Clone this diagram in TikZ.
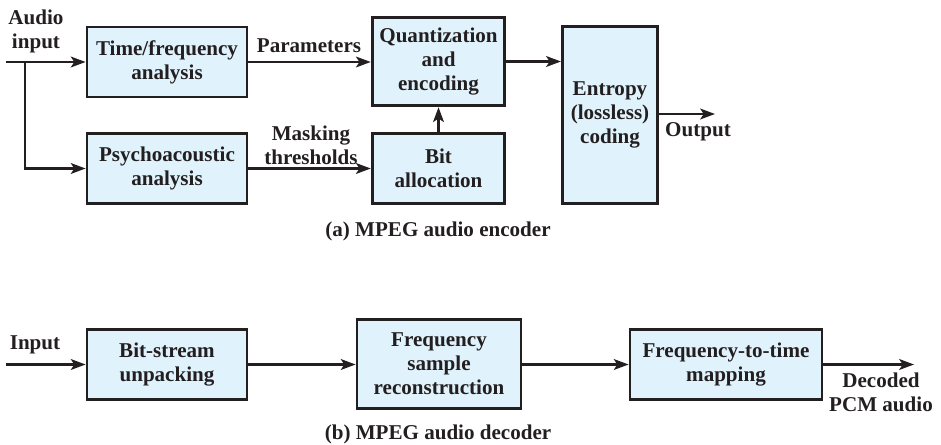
\documentclass[tikz,border=0pt]{standalone}
\usepackage{fontspec}
\setmainfont{Liberation Serif}
\usetikzlibrary{positioning,arrows.meta}
\definecolor{boxfill}{HTML}{E0F2FC}
\definecolor{ink}{HTML}{231F20}

\begin{document}
\begin{tikzpicture}[x=0.75pt,y=-0.75pt,
    font=\fontsize{15.8}{18}\selectfont\bfseries,
    bloco/.style={draw=ink,line width=2.1pt,fill=boxfill,align=center,text=ink,inner sep=2pt},
    seta/.style={draw=ink,line width=1.9pt,-{Stealth[length=11pt,width=8pt,inset=2.5pt]}},
    rotulo/.style={align=center,text=ink,inner sep=1pt}]
        \useasboundingbox (0,0) rectangle (941,445);

        % Codificador
        \node[bloco,minimum width=120pt,minimum height=52.5pt] (tf) at (167,62) {Time/frequency\\analysis};
        \node[bloco,minimum width=120pt,minimum height=52.5pt] (psy) at (167,168.5) {Psychoacoustic\\analysis};
        \node[bloco,minimum width=99.5pt,minimum height=66.5pt] (qe) at (438.5,61.5) {Quantization\\and\\encoding};
        \node[bloco,minimum width=99.5pt,minimum height=53pt] (bit) at (438.5,168.5) {Bit\\allocation};
        \node[bloco,minimum width=71.5pt,minimum height=132.5pt] (ent) at (610,115) {Entropy\\(lossless)\\coding};

        \coordinate (ain) at (6,62);
        \coordinate (br) at (25,62);
        \coordinate (aout) at (715,114);

        \draw[seta] (ain) -- (tf.west);
        \draw[seta] (br) |- (psy.west);
        \draw[seta] (tf.east) -- (tf.east -| qe.west);
        \draw[seta] (psy.east) -- (bit.west);
        \draw[seta] (bit.north) -- (qe.south);
        \draw[seta] (qe.east) -- (qe.east -| ent.west);
        \draw[seta] (ent.east |- aout) -- (aout);

        \node[rotulo] (lain) at (36,31) {Audio\\input};
        \node[rotulo] (lpar) at (309,46) {Parameters};
        \node[rotulo] (lmask) at (311,145) {Masking\\thresholds};
        \node[rotulo] (lout) at (698,132) {Output};
        \node[rotulo] (capa) at (438,231) {(a) MPEG audio encoder};

        % Decodificador
        \node[bloco,minimum width=120pt,minimum height=53pt] (bs) at (167,364.5) {Bit-stream\\unpacking};
        \node[bloco,minimum width=123pt,minimum height=67pt] (fs) at (439,364) {Frequency\\sample\\reconstruction};
        \node[bloco,minimum width=144pt,minimum height=53pt] (ft) at (726,364.5) {Frequency-to-time\\mapping};

        \coordinate (din) at (6,364.5);
        \coordinate (dout) at (914,364.5);

        \draw[seta] (din) -- (bs.west);
        \draw[seta] (bs.east) -- (bs.east -| fs.west);
        \draw[seta] (fs.east |- ft.west) -- (ft.west);
        \draw[seta] (ft.east) -- (dout);

        \node[rotulo] (ldin) at (35,345) {Input};
        \node[rotulo] (ldout) at (881,392) {Decoded\\PCM audio};
        \node[rotulo] (capb) at (438,434) {(b) MPEG audio decoder};
\end{tikzpicture}
\end{document}
